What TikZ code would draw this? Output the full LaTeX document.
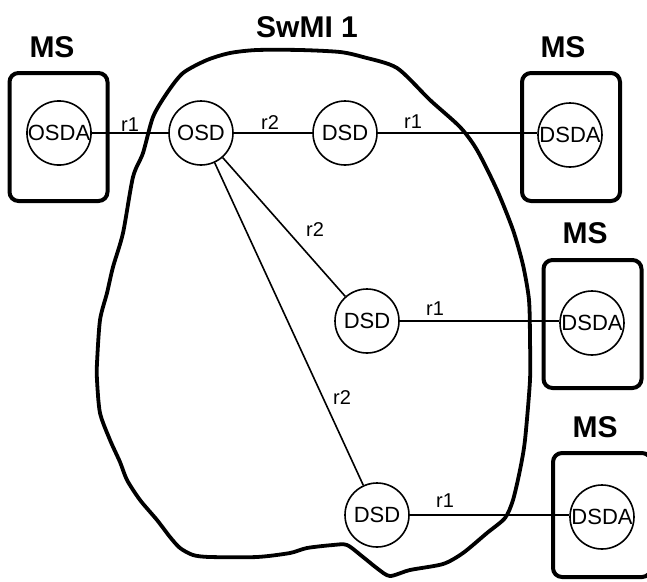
\documentclass[tikz,border=0pt]{standalone}
\usepackage{fontspec}
\setmainfont{Liberation Sans}
\usepackage{tikz}
\usetikzlibrary{positioning}

\begin{document}
\begin{tikzpicture}[
    x=1pt, y=-1pt,
    font=\fontsize{22}{22}\selectfont,
    entity/.style={draw, circle, line width=1.6pt, minimum size=64pt, inner sep=0pt},
    msbox/.style={draw, rounded corners=9pt, line width=4pt, minimum width=98pt, minimum height=128pt},
    title/.style={font=\fontsize{30}{30}\selectfont\bfseries, inner sep=0pt},
    reflabel/.style={font=\fontsize{20}{20}\selectfont, inner sep=0pt},
    link/.style={line width=1.6pt}
  ]
    \clip (0,0) rectangle (647,581);

    \draw[line width=3.8pt, line join=round] plot[smooth cycle, tension=0.45] coordinates {
      (257,50) (300,50) (340,52) (363,57) (397,68) (430,100) (460,127) (477,150)
      (497,190) (513,230) (523,265) (529,300) (530,340) (530,380) (525,440)
      (520,470) (513,500) (505,518) (487,533) (463,553) (443,564) (410,570)
      (390,576) (378,569) (363,557) (347,545) (333,545) (307,548) (290,553)
      (257,557) (210,557) (193,555) (180,548) (170,537) (157,520) (140,500)
      (127,480) (120,462) (110,440) (100,413) (97,380) (97,363) (100,320)
      (107,293) (113,267) (123,233) (133,177) (143,153) (153,117) (167,93)
      (183,73) (207,60) (230,53)};
    \node[title] (swmi) at (307,27) {SwMI 1};

    \node[msbox] (ms1) at (58.5,137) {};
    \node[msbox] (ms2) at (571,137) {};
    \node[msbox] (ms3) at (592.5,324) {};
    \node[msbox, minimum height=124pt] (ms4) at (602,515) {};
    \node[title] (ms1t) at (52,47) {MS};
    \node[title] (ms2t) at (563,47) {MS};
    \node[title] (ms3t) at (585,233) {MS};
    \node[title] (ms4t) at (595,427) {MS};

    \node[entity] (osda) at (59,133) {OSDA};
    \node[entity] (osd) at (201,133) {OSD};
    \node[entity] (dsd1) at (345,133) {DSD};
    \node[entity] (dsd2) at (367,321) {DSD};
    \node[entity] (dsd3) at (377,515) {DSD};
    \node[entity] (dsda1) at (570,135) {DSDA};
    \node[entity] (dsda2) at (592,323) {DSDA};
    \node[entity] (dsda3) at (602,517) {DSDA};

    \draw[link] (osda) -- (osd);
    \draw[link] (osd) -- (dsd1);
    \draw[link] (dsd1) -- (dsda1.west |- dsd1);
    \draw[link] (osd) -- (dsd2);
    \draw[link] (osd) -- (dsd3);
    \draw[link] (dsd2) -- (dsda2.west |- dsd2);
    \draw[link] (dsd3) -- (dsda3.west |- dsd3);

    \node[reflabel] (l1) at (130,125) {r1};
    \node[reflabel] (l2) at (270,123) {r2};
    \node[reflabel] (l3) at (413,122) {r1};
    \node[reflabel] (l4) at (315,230) {r2};
    \node[reflabel] (l5) at (435,309) {r1};
    \node[reflabel] (l6) at (342,398) {r2};
    \node[reflabel] (l7) at (445,501) {r1};
  \end{tikzpicture}
\end{document}
